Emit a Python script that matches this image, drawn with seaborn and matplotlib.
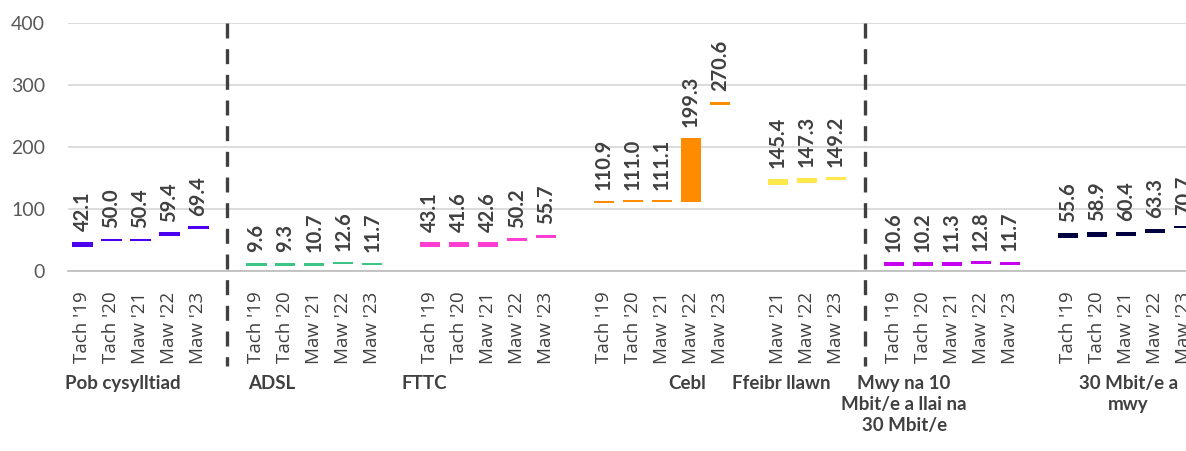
import numpy as np
import pandas as pd
import matplotlib
matplotlib.use("Agg")
import matplotlib.pyplot as plt
import seaborn as sns
from matplotlib.transforms import blended_transform_factory

# ---------------- data ----------------
groups = ["Pob cysylltiad", "ADSL", "FTTC", "Cebl", "Ffeibr llawn",
          "Mwy na 10\nMbit/e a llai na\n30 Mbit/e", "30 Mbit/e a\nmwy"]
periods_5 = ["Tach '19", "Tach '20", "Maw '21", "Maw '22", "Maw '23"]
periods_3 = ["Maw '21", "Maw '22", "Maw '23"]

pob_values = [42.1, 50.0, 50.4, 59.4, 69.4]
pob_low = [38.0, 47.8, 47.8, 56.8, 67.5]
pob_high = [46.5, 51.5, 51.5, 62.3, 71.8]

adsl_values = [9.6, 9.3, 10.7, 12.6, 11.7]
adsl_low = [7.8, 7.0, 8.3, 11.3, 10.0]
adsl_high = [12.6, 12.8, 12.8, 14.3, 13.0]

fttc_values = [43.1, 41.6, 42.6, 50.2, 55.7]
fttc_low = [38.8, 37.8, 38.8, 48.0, 53.4]
fttc_high = [45.9, 45.9, 45.9, 52.2, 57.7]

cebl_values = [110.9, 111.0, 111.1, 199.3, 270.6]
cebl_low = [109.5, 110.6, 110.6, 110.6, 268.4]
cebl_high = [113.0, 114.0, 114.0, 214.5, 273.2]

ffeibr_values = [145.4, 147.3, 149.2]
ffeibr_low = [139.2, 141.8, 147.3]
ffeibr_high = [148.3, 149.9, 151.0]

mwy10_values = [10.6, 10.2, 11.3, 12.8, 11.7]
mwy10_low = [8.3, 7.6, 7.6, 11.5, 9.9]
mwy10_high = [13.4, 13.6, 13.6, 15.0, 14.0]

mbit30_values = [55.6, 58.9, 60.4, 63.3, 70.7]
mbit30_low = [52.9, 54.5, 55.8, 61.6, 69.5]
mbit30_high = [61.2, 63.0, 63.0, 67.8, 72.2]

colors = ["#4B00F0", "#3CC484", "#FF3DD0", "#FF8C00", "#FFE84A", "#C800F0", "#000040"]

series = [
    (pob_values, pob_low, pob_high, periods_5),
    (adsl_values, adsl_low, adsl_high, periods_5),
    (fttc_values, fttc_low, fttc_high, periods_5),
    (cebl_values, cebl_low, cebl_high, periods_5),
    (ffeibr_values, ffeibr_low, ffeibr_high, periods_3),
    (mwy10_values, mwy10_low, mwy10_high, periods_5),
    (mbit30_values, mbit30_low, mbit30_high, periods_5),
]

# ---------------- layout ----------------
separator_after = [0, 4]          # dashed lines after these groups
group_label_x = [1.38, 6.53, 11.78, 20.88, 24.10, 28.35, 36.08]
text_color = "#404040"

sns.set_theme(style="white")
plt.rcParams["font.family"] = ["Lato", "DejaVu Sans"]

W, H = 1186, 451
fig = plt.figure(figsize=(W / 100, H / 100), dpi=100)
slot_px = 28.98
n_slots = 39
ax_left, ax_bottom_px, ax_h_px = 68, 270.7, 247.4
ax = fig.add_axes([ax_left / W, (H - ax_bottom_px) / H, n_slots * slot_px / W, ax_h_px / H])

tick_pos, tick_lab, gap_slots = [], [], []
start = 0
for gi, ((vals, lo, hi, per), col) in enumerate(zip(series, colors)):
    xs = start + np.arange(len(vals))
    df = pd.DataFrame({"x": xs, "h": np.array(hi) - np.array(lo)})
    sns.barplot(data=df, x="x", y="h", native_scale=True, color=col, saturation=1,
                width=0.7, errorbar=None, bottom=lo, linewidth=0, ax=ax)
    ax.bar_label(ax.containers[-1], labels=[f"{v:.1f}" for v in vals], padding=7.6,
                 rotation=90, fontsize=14.5, fontweight="bold", color=text_color)
    tick_pos += list(xs)
    tick_lab += per
    gap_slots.append(start + len(vals))
    start += len(vals) + 1

ax.set_xlim(-0.5, n_slots - 0.5)
ax.set_ylim(0, 400)
ax.set_xlabel("")
ax.set_ylabel("")
ax.set_yticks([0, 100, 200, 300, 400])
ax.tick_params(axis="y", length=0, pad=16.5, labelsize=14, labelcolor="#595959")
ax.yaxis.grid(True, color="#D9D9D9", linewidth=1.3)
ax.set_axisbelow(True)
for s in ["left", "right", "top"]:
    ax.spines[s].set_visible(False)
ax.spines["bottom"].set_color("#BFBFBF")
ax.spines["bottom"].set_linewidth(1.3)

ax.set_xticks(tick_pos, tick_lab, rotation=90, va="center", fontsize=13.5,
              color=text_color, family=["Open Sans", "DejaVu Sans"])
ax.set_xticks(np.arange(-0.5, n_slots), minor=True)
ax.tick_params(axis="x", which="major", length=0, pad=40.9)
ax.tick_params(axis="x", which="minor", length=4.5, width=1, color="#BFBFBF")

blend = blended_transform_factory(ax.transData, ax.transAxes)
for gi in separator_after:
    gx = gap_slots[gi]
    ax.plot([gx, gx], [1.0, -0.385], transform=blend, clip_on=False,
            color=text_color, linewidth=2.4, dashes=(4.5, 3.2))

for name, gx in zip(groups, group_label_x):
    ax.text(gx, -0.42, name, transform=blend, ha="center", va="top",
            fontsize=13.5, fontweight="bold", color=text_color, linespacing=1.3)

fig.savefig("out.png", dpi=100)
